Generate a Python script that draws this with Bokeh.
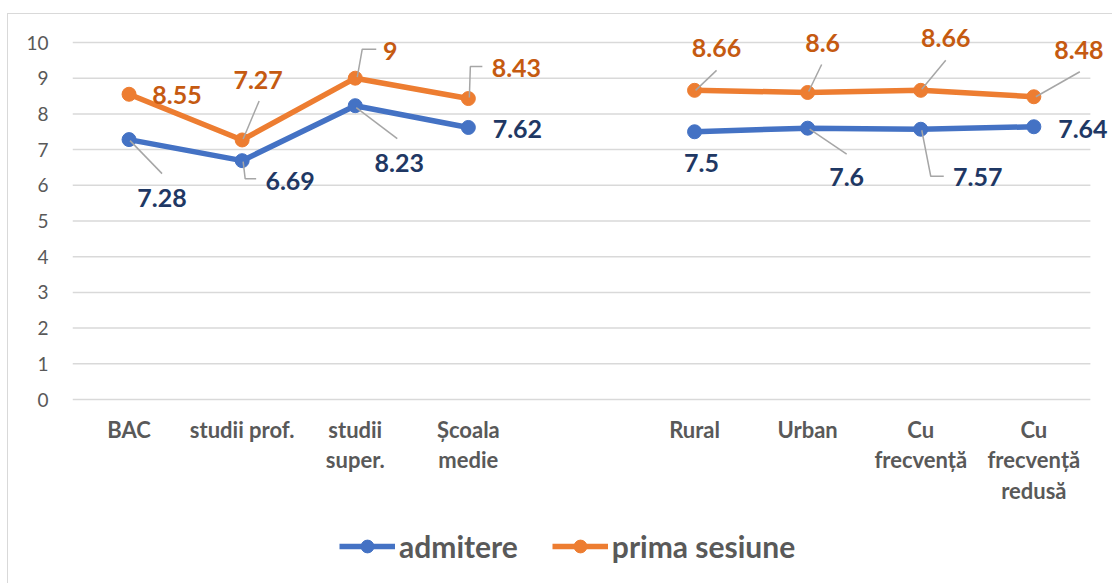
import math
from bokeh.plotting import figure
from bokeh.models import ColumnDataSource, FixedTicker, Range1d, Legend, LegendItem
from bokeh.embed import file_html
from bokeh.resources import INLINE
from bokeh.core.properties import value

# ---------------- data ----------------
categories = ["BAC", "studii prof.", "studii super.", "Școala medie", "",
              "Rural", "Urban", "Cu frecvență", "Cu frecvență redusă"]
tick_labels = ["BAC", "studii prof.", "studii\nsuper.", "Școala\nmedie", "",
               "Rural", "Urban", "Cu\nfrecvență", "Cu\nfrecvență\nredusă"]
admitere = [7.28, 6.69, 8.23, 7.62, None, 7.5, 7.6, 7.57, 7.64]
prima_sesiune = [8.55, 7.27, 9, 8.43, None, 8.66, 8.6, 8.66, 8.48]
y_ticks = [0, 1, 2, 3, 4, 5, 6, 7, 8, 9, 10]

# ---------------- label placement (screen px offsets from the point, +y = down) ----------------
adm_label_off = [(33, 58), (48, 20), (44, 57), (49, 2), None, (7, 31), (39, 49), (57, 48), (49, 2)]
pri_label_off = [(48, 1), (16, -60), (35, -27), (48, -31), None, (22, -42), (15, -49), (25, -52), (45, -47)]
adm_leader = [[(1, 1), (33, 34)], [(1, 1), (3, 18), (14, 18)], [(1, 2), (42, 33)], None, None,
              None, [(2, 1), (39, 26)], [(1, 1), (10, 47), (23, 47)], None]
pri_leader = [None, [(1, -1), (17, -39)], [(2, -1), (7, -29), (21, -29)], [(1, -1), (2, -32), (14, -32)], None,
              [(1, 0), (22, -20)], [(1, -1), (14, -28)], [(1, -1), (25, -30)], [(2, 0), (46, -25)]]

BLUE = "#4472C4"
ORANGE = "#ED7D31"
BLUE_TXT = "#1F3864"
ORANGE_TXT = "#C55A11"
GRID = "#D9D9D9"
AXIS_TXT = "#595959"
FONT = "Lato"

# geometry (px)
CANVAS_W, CANVAS_H = 1104, 569     # page: margin 13 top / 7 left + 1px border
LEFT = 64                          # y-axis label area
PLOT_TOP = 28                      # distance from canvas top to the value-10 gridline
PLOT_H = 357                       # 0..10 span
CAT_W = 113.1                      # width of one category band

n = len(categories)
frame_w = CANVAS_W - LEFT
frame_h = CANVAS_H
unit_y = PLOT_H / 10.0
y_top = 10 + PLOT_TOP / unit_y
y_bot = y_top - frame_h / unit_y
x_end = -0.5 + frame_w / CAT_W

xs = list(range(n))
nan = float("nan")
adm_y = [nan if v is None else v for v in admitere]
pri_y = [nan if v is None else v for v in prima_sesiune]

p = figure(frame_width=frame_w, frame_height=frame_h,
           x_range=Range1d(-0.5, x_end), y_range=Range1d(y_bot, y_top),
           output_backend="svg", toolbar_location=None, x_axis_location=None,
           min_border_left=LEFT, min_border_right=0, min_border_top=0, min_border_bottom=0)
p.margin = (13, 0, 0, 7)
p.styles = {"border-left": "1px solid #D9D9D9", "border-top": "1px solid #D9D9D9"}
p.outline_line_color = None
p.background_fill_color = "white"
p.border_fill_color = "white"
p.grid.visible = False

# y axis
p.yaxis.ticker = FixedTicker(ticks=y_ticks)
p.yaxis.axis_line_color = None
p.yaxis.major_tick_line_color = None
p.yaxis.minor_tick_line_color = None
p.yaxis.major_tick_out = 0
p.yaxis.major_label_standoff = 24
p.yaxis.major_label_text_font = FONT
p.yaxis.major_label_text_font_size = "19px"
p.yaxis.major_label_text_color = AXIS_TXT

# horizontal gridlines over the category span
p.segment(x0=[-0.5] * len(y_ticks), x1=[n - 0.5] * len(y_ticks), y0=y_ticks, y1=y_ticks,
          line_color=GRID, line_width=1.5)

# category labels under the value-0 line
tick_idx = [i for i in xs if categories[i] != ""]
p.text(x=tick_idx, y=[0] * len(tick_idx), text=[tick_labels[i] for i in tick_idx],
       y_offset=16, text_font=value(FONT), text_font_style="bold", text_font_size="22px",
       text_color=AXIS_TXT, text_align="center", text_baseline="top", text_line_height=1.13)

src = ColumnDataSource(dict(x=xs, adm=adm_y, pri=pri_y))

l_adm = p.line("x", "adm", source=src, line_color=BLUE, line_width=5.5)
m_adm = p.scatter("x", "adm", source=src, size=14, fill_color=BLUE, line_color=BLUE)
l_pri = p.line("x", "pri", source=src, line_color=ORANGE, line_width=5.5)
m_pri = p.scatter("x", "pri", source=src, size=14, fill_color=ORANGE, line_color=ORANGE)


def leaders(vals, leader_list):
    lx, ly = [], []
    for i, (v, path) in enumerate(zip(vals, leader_list)):
        if v is None or path is None:
            continue
        lx.append([i + dx / CAT_W for dx, dy in path])
        ly.append([v - dy / unit_y for dx, dy in path])
    return lx, ly


for vals, lead in ((admitere, adm_leader), (prima_sesiune, pri_leader)):
    lx, ly = leaders(vals, lead)
    p.multi_line(lx, ly, line_color="#A6A6A6", line_width=1.5)


def labels(vals, offs, color):
    d = dict(x=[], y=[], t=[], dx=[], dy=[])
    for i, (v, o) in enumerate(zip(vals, offs)):
        if v is None:
            continue
        d["x"].append(i)
        d["y"].append(v)
        d["t"].append(f"{v:g}")
        d["dx"].append(o[0])
        d["dy"].append(o[1])
    s = ColumnDataSource(d)
    p.text("x", "y", text="t", x_offset="dx", y_offset="dy", source=s,
           text_font=value(FONT), text_font_style="bold", text_font_size="25px",
           text_color=color, text_align="center", text_baseline="middle")


labels(admitere, adm_label_off, BLUE_TXT)
labels(prima_sesiune, pri_label_off, ORANGE_TXT)

legend = Legend(items=[LegendItem(label="admitere", renderers=[l_adm, m_adm]),
                       LegendItem(label="prima sesiune", renderers=[l_pri, m_pri])],
                orientation="horizontal", location=(267, 19),
                glyph_width=56, glyph_height=32, label_standoff=4, spacing=34,
                label_text_font=FONT, label_text_font_style="bold",
                label_text_font_size="30px", label_text_color=AXIS_TXT,
                border_line_color=None, background_fill_alpha=0,
                padding=4, margin=0)
p.add_layout(legend, "center")

open("out.html", "w").write(file_html(p, INLINE))
